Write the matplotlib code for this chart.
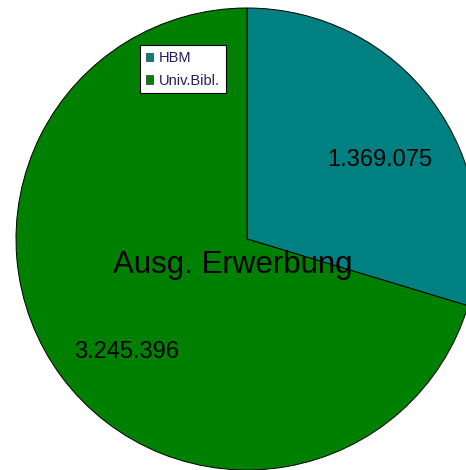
import matplotlib.pyplot as plt
from matplotlib.patches import Patch

# Ausgaben Erwerbung
labels = ["HBM", "Univ.Bibl."]
values = [1369075, 3245396]
value_text = ["1.369.075", "3.245.396"]
colors = ["#008080", "#008000"]

fig = plt.figure(figsize=(4.66, 4.70), dpi=100)
ax = fig.add_axes([0, 0, 1, 1])

wedges, _ = ax.pie(values, colors=colors, startangle=90, counterclock=False,
                   center=(247, 231), radius=231, frame=True,
                   wedgeprops=dict(edgecolor="black", linewidth=0.7))
ax.set_xlim(0, 466)
ax.set_ylim(0, 470)
ax.set_aspect("equal")
ax.axis("off")

# value labels
ax.text(380, 470 - 160, value_text[0], fontsize=17, family="Liberation Sans",
        ha="center", va="center", color="black")
ax.text(127, 470 - 352, value_text[1], fontsize=17, family="Liberation Sans",
        ha="center", va="center", color="black")
ax.text(233, 470 - 265, "Ausg. Erwerbung", fontsize=22.5, family="Liberation Sans",
        ha="center", va="center", color="black")

handles = [Patch(facecolor=c, edgecolor="#333333", linewidth=0.5) for c in colors]
leg = ax.legend(handles, labels, loc="upper left",
                bbox_to_anchor=(140 / 466, 1 - 45 / 470), bbox_transform=fig.transFigure,
                borderaxespad=0, fancybox=False, framealpha=1, edgecolor="black",
                prop={"family": "Liberation Sans", "size": 10.5},
                handlelength=0.5, handleheight=0.5, handletextpad=0.4,
                labelspacing=0.6, borderpad=0.4, labelcolor="#202060")
leg.get_frame().set_linewidth(0.8)

fig.savefig("out.png", dpi=100)
